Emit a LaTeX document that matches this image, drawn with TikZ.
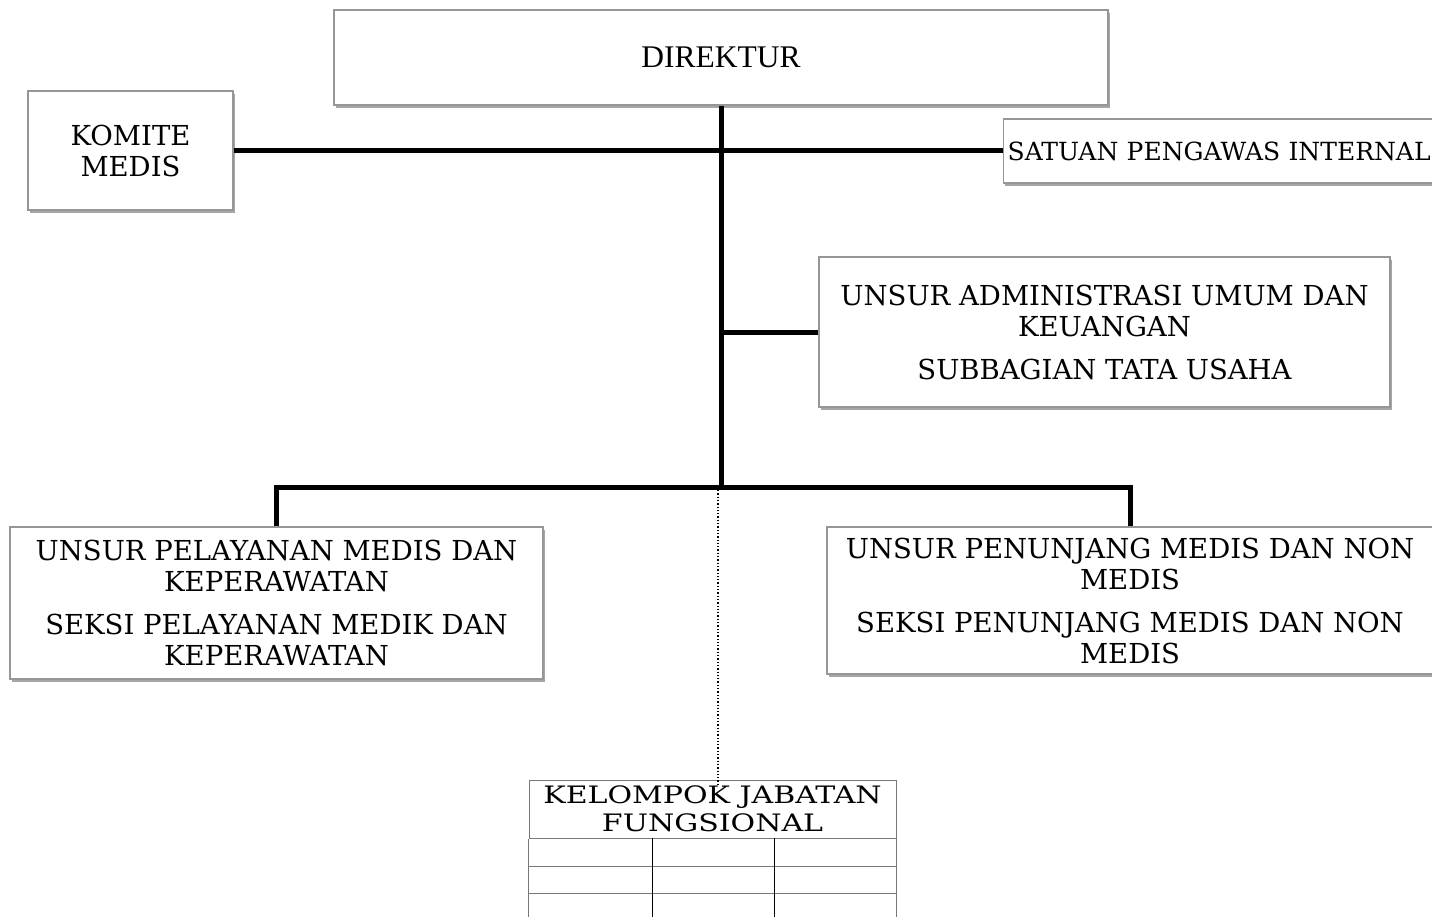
\documentclass[tikz,border=0pt]{standalone}
\usepackage{fontspec}
\setmainfont{DejaVu Serif}
\newfontfamily\timesf{Liberation Serif}
\newfontfamily\widef[FakeStretch=1.25]{DejaVu Serif}
\usetikzlibrary{shadows}
\definecolor{boxgray}{RGB}{150,150,150}
\definecolor{tabgray}{RGB}{120,120,120}
\tikzset{
  orgbox/.style={draw=boxgray, line width=1.3pt, fill=white, rectangle, align=center,
    inner sep=0pt, font=\fontsize{27.5}{31}\selectfont,
    drop shadow={shadow xshift=1.5pt, shadow yshift=-3pt, opacity=0.35, fill=black}},
  conn/.style={line width=5pt, black, line join=miter},
  dotconn/.style={line width=1.3pt, black, dotted},
  tabline/.style={line width=1pt, tabgray},
  colline/.style={line width=1pt, black},
}
\begin{document}
\begin{tikzpicture}[x=1pt,y=-1pt]
\useasboundingbox (0,0) rectangle (1432,916);
% boxes
\node[orgbox, minimum width=774pt, minimum height=95pt, font=\timesf\fontsize{31.5}{36}\selectfont] (dir) at (721,57.5) {DIREKTUR};
\node[orgbox, minimum width=205pt, minimum height=119pt] (kom) at (130.5,150.5) {KOMITE\\MEDIS};
\node[orgbox, anchor=west, minimum height=64pt, inner xsep=4pt, text width=424pt, align=left, font=\fontsize{25}{31}\selectfont] (spi) at (1003,151) {SATUAN PENGAWAS INTERNAL};
\node[orgbox, minimum width=571pt, minimum height=150pt] (adm) at (1104.5,332) {UNSUR ADMINISTRASI UMUM DAN\\KEUANGAN\\[12pt]SUBBAGIAN TATA USAHA};
\node[orgbox, minimum width=533pt, minimum height=152pt] (pel) at (276.5,603) {UNSUR PELAYANAN MEDIS DAN\\KEPERAWATAN\\[12pt]SEKSI PELAYANAN MEDIK DAN\\KEPERAWATAN};
\node[orgbox, minimum width=606pt, minimum height=147pt] (pen) at (1130,600.5) {UNSUR PENUNJANG MEDIS DAN NON\\MEDIS\\[12pt]SEKSI PENUNJANG MEDIS DAN NON\\MEDIS};
% table
\node[draw=tabgray, line width=1pt, rectangle, minimum width=367pt, minimum height=58pt, inner sep=0pt, align=center, font=\widef\fontsize{24}{28}\selectfont] (kel) at (712.5,809) {KELOMPOK JABATAN\\FUNGSIONAL};
\draw[tabline] (kel.south west) -- ++(0,90);
\draw[tabline] (kel.south east) -- ++(0,90);
\draw[tabline] (529,866) -- (896,866);
\draw[tabline] (529,893) -- (896,893);
\draw[colline] (652,838) -- (652,920);
\draw[colline] (774,838) -- (774,920);
% connectors
\coordinate (j2) at (721,332);
\coordinate (j3) at (721,487);
\coordinate (dotstart) at (718,490);
\coordinate (dotend) at (718,786);
\draw[conn] (kom.east) -- (kom.east -| spi.west);
\draw[conn] (dir.south) -- (j3);
\draw[conn] (j2) -- (adm.west);
\draw[conn] (pel.north) |- (j3) -| (pen.north);
\draw[dotconn] (dotstart) -- (dotend);
\end{tikzpicture}
\end{document}
